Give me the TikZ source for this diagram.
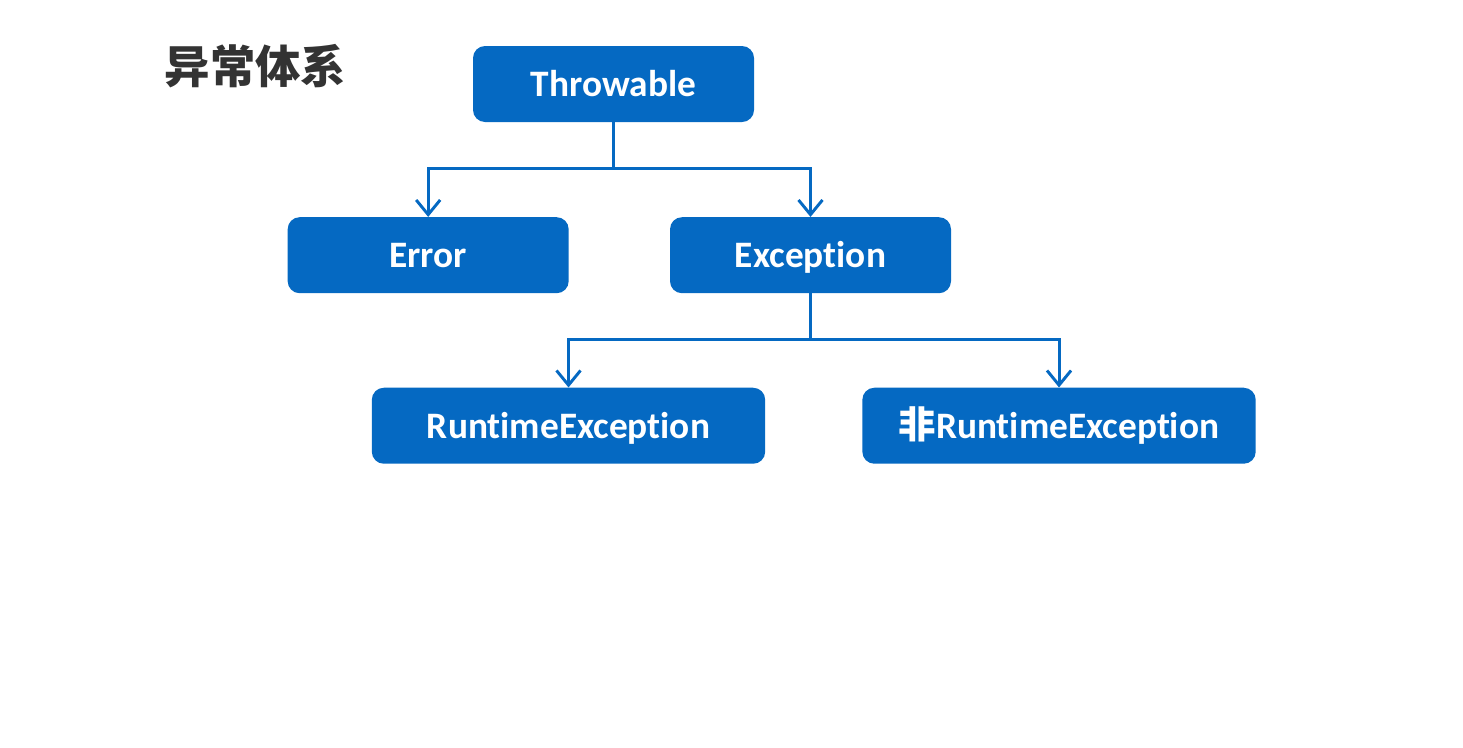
\documentclass[tikz,border=0pt]{standalone}
\usepackage{fontspec}
\setmainfont{Carlito}[Ligatures=NoCommon]
\newfontfamily\cjk{Noto Sans CJK SC}
\usetikzlibrary{positioning}
\usetikzlibrary{arrows.meta}

\definecolor{boxblue}{HTML}{0569C2}
\definecolor{titlegray}{HTML}{333333}

\begin{document}
\begin{tikzpicture}[
    x=0.75pt, y=-0.75pt,
    node distance=71pt and 0pt,
    classbox/.style={fill=boxblue,rounded corners=9pt,text=white,
      font=\fontsize{28}{32}\selectfont\bfseries,
      text height=24pt,text depth=5pt,
      minimum width=210.75pt,minimum height=57pt,inner sep=0pt},
    widebox/.style={classbox,minimum width=295pt},
    link/.style={draw=boxblue,line width=2.2pt,
      -{Straight Barb[length=11pt,width=18pt,line width=2.2pt]}}
    ]

    \useasboundingbox (0,0) rectangle (1463,747);

    \node[anchor=west,text=titlegray,font=\cjk\fontsize{34}{38}\selectfont\bfseries] (title) at (160,66) {异常体系};

    \node[classbox] (throwable) at (613.5,84) {Throwable};
    \node[classbox, below=of throwable, xshift=-139pt] (error) {Error};
    \node[classbox, below=of throwable, xshift=147.75pt] (exception) {Exception};

    \node[widebox, below=70.5pt of exception, xshift=-181.5pt] (runtime) {RuntimeException};
    \node[widebox, below=70.5pt of exception, xshift=186.4pt] (nonruntime) {{\cjk 非}RuntimeException};

    \draw[link] (throwable.south) -- ++(0,46) -| (error.north);
    \draw[link] (throwable.south) -- ++(0,46) -| (exception.north);

    \draw[link] (exception.south) -- ++(0,46) -| (runtime.north);
    \draw[link] (exception.south) -- ++(0,46) -| (nonruntime.north);

  \end{tikzpicture}
\end{document}
